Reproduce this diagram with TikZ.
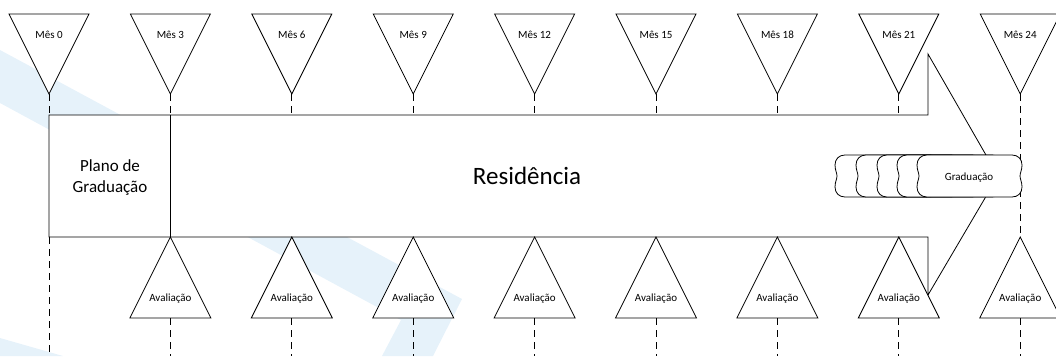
\documentclass[tikz,border=0pt]{standalone}
\usepackage{fontspec}
\setmainfont{Carlito}
\definecolor{bandblue}{RGB}{230,242,250}
\tikzset{
  ln/.style={draw=black, line width=0.8pt, line join=miter},
  tri/.style={ln, fill=white},
  dsh/.style={draw=black, line width=0.8pt, dash pattern=on 7pt off 5pt},
  lbl/.style={font=\fontsize{11}{13}\selectfont, anchor=base, inner sep=0pt},
  gcloud/.pic={
    \path[ln, fill=white] (10,0) -- (95,0)
      .. controls (101,0) and (105,4) .. (105,10)
      .. controls (105,15) and (103,18) .. (103,21)
      .. controls (103,24) and (105,27) .. (105,32)
      .. controls (105,38) and (101,42) .. (95,42)
      -- (10,42)
      .. controls (4,42) and (0,38) .. (0,32)
      .. controls (0,27) and (2,24) .. (2,21)
      .. controls (2,18) and (0,15) .. (0,10)
      .. controls (0,4) and (4,0) .. (10,0) -- cycle;
  }
}
\begin{document}
\begin{tikzpicture}[x=1pt,y=-1pt]
\useasboundingbox (0,0) rectangle (1056,356);
% watermark
\fill[bandblue] (0,50) -- (462,299) -- (433,356) -- (382,356) -- (401,320) -- (0,103) -- cycle;
\fill[bandblue] (0,338) -- (63,356) -- (0,356) -- cycle;
% arrow body
\coordinate (a1) at (49,115);
\coordinate (a2) at (928,115);
\coordinate (a3) at (928,54);
\coordinate (tip) at (998,176);
\coordinate (a5) at (928,295);
\coordinate (a6) at (928,237);
\coordinate (a7) at (49,237);
\path[ln, fill=white] (a1) -- (a2) -- (a3) -- (tip) -- (a5) -- (a6) -- (a7) -- cycle;
\coordinate (d1) at (170,115);
\coordinate (d2) at (170,237);
\draw[ln] (d1) -- (d2);
% columns
\foreach \i in {0,...,8}{
  \pgfmathsetmacro\xc{49+121.4*\i}
  \pgfmathtruncatemacro\m{3*\i}
  \path[tri] (\xc-40,14) -- (\xc+40,14) -- (\xc,94) -- cycle;
  \node[lbl] (mes\i) at (\xc,38) {Mês \m};
  \coordinate (ta\i) at (\xc,94);
  \coordinate (ba\i) at (\xc,237);
  \coordinate (bb\i) at (\xc,318);
  \coordinate (end\i) at (\xc,356);
}
\foreach \i in {0,...,7}{
  \pgfmathsetmacro\xc{49+121.4*\i}
  \coordinate (rt\i) at (\xc,115);
  \draw[dsh] (ta\i) -- (rt\i);
}
\draw[dsh] (ta8) -- (ba8);
\draw[dsh] (ba0) -- (end0);
\foreach \i in {1,...,8}{
  \pgfmathsetmacro\xc{49+121.4*\i}
  \path[tri] (ba\i) -- (\xc+40.5,318) -- (\xc-40.5,318) -- cycle;
  \node[lbl] (av\i) at (\xc,301) {Avaliação};
  \draw[dsh] (bb\i) -- (end\i);
}
% graduation clouds
\foreach \L in {835,856,877,897,917}{
  \pic at (\L,155) {gcloud};
}
\node[lbl] (grad) at (969,180) {Graduação};
% texts
\node[font=\fontsize{25}{30}\selectfont, anchor=base, inner sep=0pt] (res) at (527,184) {Residência};
\node[font=\fontsize{17}{20.5}\selectfont, align=center, inner sep=0pt] (plano) at (110,177.5) {Plano de\\Graduação};
\end{tikzpicture}
\end{document}
